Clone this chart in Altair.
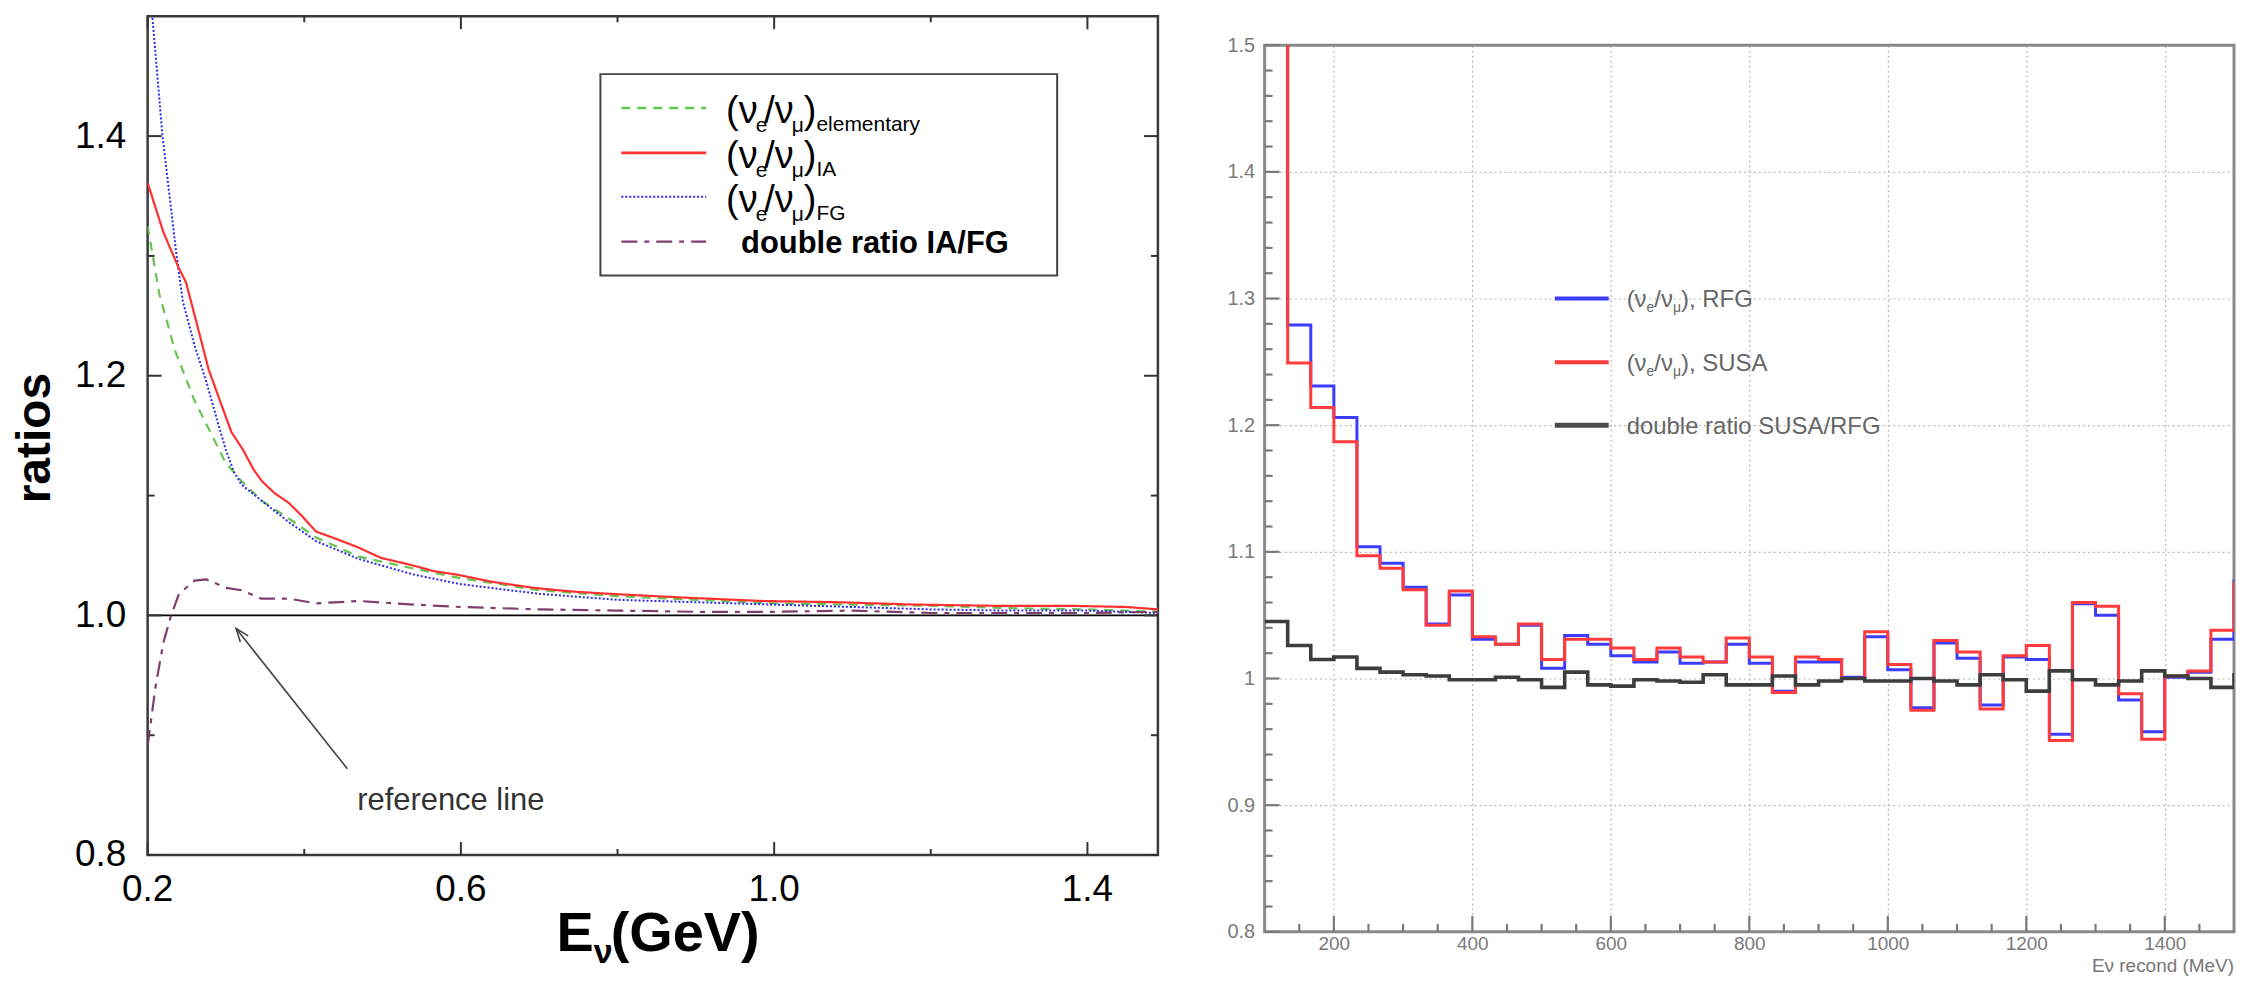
import altair as alt
import pandas as pd

# ---------------- left panel data (E in GeV, ratios) ----------------
ia_x = [0.2, 0.22, 0.239, 0.249, 0.263, 0.278, 0.293, 0.307, 0.322, 0.335, 0.346, 0.362, 0.380, 0.397,
        0.415, 0.44, 0.468, 0.498, 0.537, 0.565, 0.595, 0.64, 0.693, 0.74, 0.79, 0.88, 0.985, 1.08,
        1.18, 1.28, 1.376, 1.45, 1.49]
ia_y = [1.361, 1.32, 1.291, 1.278, 1.243, 1.205, 1.178, 1.153, 1.138, 1.122, 1.112, 1.102, 1.094, 1.083,
        1.070, 1.064, 1.057, 1.048, 1.042, 1.037, 1.034, 1.028, 1.023, 1.020, 1.018, 1.015, 1.012, 1.011,
        1.009, 1.008, 1.008, 1.007, 1.005]

fg_x = [0.2, 0.206, 0.219, 0.237, 0.245, 0.26, 0.275, 0.29, 0.30, 0.31, 0.32, 0.345, 0.38, 0.415, 0.47,
        0.54, 0.60, 0.70, 0.80, 0.90, 1.0, 1.1, 1.2, 1.3, 1.4, 1.49]
fg_y = [1.545, 1.5, 1.4, 1.3, 1.262, 1.225, 1.195, 1.16, 1.138, 1.12, 1.109, 1.096, 1.078, 1.062, 1.047,
        1.034, 1.026, 1.018, 1.013, 1.011, 1.009, 1.007, 1.005, 1.004, 1.004, 1.002]

el_x = [0.2, 0.215, 0.235, 0.26, 0.28, 0.30, 0.32, 0.345, 0.38, 0.415, 0.47, 0.54, 0.60, 0.70, 0.80,
        0.90, 1.0, 1.1, 1.2, 1.3, 1.4, 1.49]
el_y = [1.325, 1.268, 1.221, 1.179, 1.153, 1.127, 1.112, 1.096, 1.081, 1.065, 1.049, 1.039, 1.031, 1.021,
        1.016, 1.013, 1.010, 1.009, 1.008, 1.006, 1.005, 1.003]

dr_x = [0.2, 0.21, 0.22, 0.23, 0.24, 0.26, 0.275, 0.30, 0.32, 0.345, 0.38, 0.415, 0.47, 0.54, 0.60, 0.70,
        0.80, 0.90, 1.0, 1.1, 1.2, 1.3, 1.4, 1.49]
dr_y = [0.891, 0.94, 0.977, 1.0, 1.018, 1.029, 1.030, 1.023, 1.021, 1.014, 1.014, 1.010, 1.012, 1.009,
        1.007, 1.005, 1.004, 1.003, 1.003, 1.004, 1.002, 1.002, 1.002, 1.003]

left_xticks_major = [0.2, 0.6, 1.0, 1.4]
left_xticks_minor = [0.4, 0.8, 1.2]
left_yticks_major = [0.8, 1.0, 1.2, 1.4]
left_yticks_minor = [0.9, 1.1, 1.3]
arrow_from = (0.455, 0.872)
arrow_to = (0.313, 0.989)

# ---------------- right panel data (E in MeV, histograms) ----------------
bin_start, bin_width = 100.0, 1400.0 / 42
susa = [1.60, 1.249, 1.214, 1.187, 1.097, 1.087, 1.070, 1.042, 1.069, 1.033, 1.027, 1.043, 1.015, 1.031,
        1.031, 1.024, 1.015, 1.024, 1.017, 1.013, 1.032, 1.017, 0.989, 1.017, 1.015, 1.000, 1.037, 1.011,
        0.975, 1.030, 1.021, 0.976, 1.018, 1.026, 0.951, 1.060, 1.057, 0.988, 0.952, 1.002, 1.006, 1.038,
        1.075]
rfg = [1.60, 1.279, 1.231, 1.206, 1.104, 1.091, 1.072, 1.043, 1.066, 1.031, 1.027, 1.042, 1.008, 1.034,
       1.027, 1.018, 1.013, 1.021, 1.012, 1.013, 1.027, 1.012, 0.990, 1.013, 1.013, 1.001, 1.033, 1.007,
       0.977, 1.028, 1.016, 0.979, 1.017, 1.015, 0.956, 1.059, 1.050, 0.983, 0.958, 1.001, 1.005, 1.031,
       1.077]
dbl = [1.045, 1.026, 1.015, 1.017, 1.008, 1.005, 1.003, 1.002, 0.999, 0.999, 1.001, 0.999, 0.993, 1.005,
       0.995, 0.994, 0.999, 0.998, 0.997, 1.003, 0.995, 0.995, 1.002, 0.995, 0.998, 1.000, 0.998, 0.998,
       1.000, 0.998, 0.995, 1.003, 0.999, 0.990, 1.006, 0.999, 0.995, 0.998, 1.006, 1.002, 1.000, 0.993,
       1.003]
right_xticks_major = [200, 400, 600, 800, 1000, 1200, 1400]
right_xticks_minor = [150, 250, 300, 350, 450, 500, 550, 650, 700, 750, 850, 900, 950, 1050, 1100, 1150,
                      1250, 1300, 1350, 1450]
right_yticks_major = [0.8, 0.9, 1.0, 1.1, 1.2, 1.3, 1.4, 1.5]
right_yticks_minor = [0.82, 0.84, 0.86, 0.88, 0.92, 0.94, 0.96, 0.98, 1.02, 1.04, 1.06, 1.08, 1.12, 1.14,
                      1.16, 1.18, 1.22, 1.24, 1.26, 1.28, 1.32, 1.34, 1.36, 1.38, 1.42, 1.44, 1.46, 1.48]

# ---------------- layout ----------------
W1, H1 = 1013, 841
W2, H2 = 972, 889
SPACER = 19
FONT = "Liberation Sans"

one = pd.DataFrame({"a": [0]})

# Arial / Liberation Sans advance widths (em fractions)
_W = {" ": .278, "(": .333, ")": .333, "/": .278, ",": .278, ".": .278, "A": .667, "E": .667, "F": .611,
      "G": .778, "I": .278, "M": .833, "R": .722, "S": .667, "U": .722, "V": .667, "a": .556, "b": .556,
      "c": .5, "d": .556, "e": .556, "i": .222, "l": .222, "m": .833, "n": .556, "o": .556, "r": .333,
      "t": .278, "u": .556, "y": .5, "ν": .5, "μ": .576}


def tw(s, size):
    return sum(_W.get(ch, .556) for ch in s) * size


def rich(parts, x0, ybase, color, weight="normal", font=FONT):
    out = []
    x = x0
    for txt, size, dy, kern in parts:
        out.append(alt.Chart(one).mark_text(text=txt, font=font, fontSize=size, fontWeight=weight,
                                            color=color, align="left", baseline="alphabetic")
                   .encode(x=alt.value(x), y=alt.value(ybase + dy)))
        x += tw(txt, size) + kern
    return out


# ================= LEFT PANEL =================
xs1 = alt.Scale(domain=[0.2, 1.49], nice=False, zero=False)
ys1 = alt.Scale(domain=[0.8, 1.5], nice=False, zero=False)
AX1 = alt.Axis(values=left_xticks_major, ticks=False, domain=False, grid=False, labels=False, title=None)
AY1 = alt.Axis(values=left_yticks_major, format=".1f", ticks=False, domain=False, grid=False, labelFlush=False,
               labelFont=FONT, labelFontSize=37, labelColor="black", labelPadding=22, title=None)


def X1(f):
    return alt.X(f, scale=xs1, axis=AX1)


def Y1(f):
    return alt.Y(f, scale=ys1, axis=AY1)


def curve(xv, yv, color, dash, width):
    df = pd.DataFrame({"x": xv, "y": yv})
    return alt.Chart(df).mark_line(color=color, strokeDash=dash, strokeWidth=width, clip=True).encode(
        x=X1("x:Q"), y=Y1("y:Q"))


frame1_df = pd.DataFrame({"x0": [0.2], "x1": [1.49], "y0": [0.8], "y1": [1.5]})
frame1 = alt.Chart(frame1_df).mark_rect(fillOpacity=0, stroke="#3a3a3a", strokeWidth=2.5).encode(
    x=X1("x0:Q"), x2="x1:Q", y=Y1("y0:Q"), y2="y1:Q")

# x tick labels of the left panel, centred under their ticks
xlab1 = alt.Chart(pd.DataFrame({"v": left_xticks_major})).mark_text(
    font=FONT, fontSize=37, color="black", align="center", baseline="top").encode(
    x=X1("v:Q"), y=alt.value(H1 + 17), text=alt.Text("v:Q", format=".1f"))

ref_df = pd.DataFrame({"x0": [0.2], "x1": [1.49], "y": [1.0]})
ref_line = alt.Chart(ref_df).mark_rule(color="black", strokeWidth=1.8).encode(
    x=X1("x0:Q"), x2="x1:Q", y=Y1("y:Q"))


def ticks_y(vals, length, Yf, width_px, color, sw, both=True):
    df = pd.DataFrame({"v": vals})
    base = alt.Chart(df).mark_rule(color=color, strokeWidth=sw)
    out = [base.encode(y=Yf("v:Q"), x=alt.value(0), x2=alt.value(length))]
    if both:
        out.append(base.encode(y=Yf("v:Q"), x=alt.value(width_px - length), x2=alt.value(width_px)))
    return out


def ticks_x(vals, length, Xf, height_px, color, sw, both=True):
    df = pd.DataFrame({"v": vals})
    base = alt.Chart(df).mark_rule(color=color, strokeWidth=sw)
    out = [base.encode(x=Xf("v:Q"), y=alt.value(height_px - length), y2=alt.value(height_px))]
    if both:
        out.append(base.encode(x=Xf("v:Q"), y=alt.value(0), y2=alt.value(length)))
    return out


left_ticks = (ticks_y(left_yticks_major, 14, Y1, W1, "#333", 2) + ticks_y(left_yticks_minor, 7, Y1, W1, "#333", 2)
              + ticks_x(left_xticks_major, 13, X1, H1, "#333", 2) + ticks_x(left_xticks_minor, 6, X1, H1, "#333", 2))

c_el = curve(el_x, el_y, "#66c450", [9, 7], 2.2)
c_fg = curve(fg_x, fg_y, "#2a2af0", [2, 2], 2.0)
c_ia = curve(ia_x, ia_y, "#ff3030", [1, 0], 2.2)
c_dr = curve(dr_x, dr_y, "#7e3f6e", [16, 7, 5, 7], 2.2)

# arrow + annotation
arr_df = pd.DataFrame({"x0": [arrow_from[0]], "y0": [arrow_from[1]], "x1": [arrow_to[0]], "y1": [arrow_to[1]]})
arrow_line = alt.Chart(arr_df).mark_rule(color="#444", strokeWidth=1.6).encode(
    x=X1("x0:Q"), y=Y1("y0:Q"), x2="x1:Q", y2="y1:Q")
arrow_head = alt.Chart(arr_df).mark_point(shape="M-0.38,1 L0,0 L0.38,1", filled=False, size=700,
                                          color="#444", strokeWidth=1.6, angle=322, opacity=1).encode(
    x=X1("x1:Q"), y=Y1("y1:Q"))
ref_text = alt.Chart(one).mark_text(text="reference line", font=FONT, fontSize=31, color="#333",
                                    align="center", baseline="alphabetic").encode(
    x=alt.value(304), y=alt.value(796))

# legend (left)
leg1_box = alt.Chart(one).mark_rect(fill="white", stroke="#444", strokeWidth=2).encode(
    x=alt.value(454), x2=alt.value(912), y=alt.value(58), y2=alt.value(260))
rows1 = [92, 137, 181, 226]
leg1_lines = [
    alt.Chart(one).mark_rule(color="#66c450", strokeDash=[9, 7], strokeWidth=2.4).encode(
        x=alt.value(475), x2=alt.value(560), y=alt.value(rows1[0])),
    alt.Chart(one).mark_rule(color="#ff3030", strokeWidth=2.6).encode(
        x=alt.value(475), x2=alt.value(560), y=alt.value(rows1[1])),
    alt.Chart(one).mark_rule(color="#2a2af0", strokeDash=[2, 2], strokeWidth=2).encode(
        x=alt.value(475), x2=alt.value(560), y=alt.value(rows1[2])),
    alt.Chart(one).mark_rule(color="#7e3f6e", strokeDash=[16, 7, 5, 7], strokeWidth=2.4).encode(
        x=alt.value(475), x2=alt.value(560), y=alt.value(rows1[3])),
]
leg1_text = []
for r, sub in zip(rows1[:3], ["elementary", "IA", "FG"]):
    leg1_text += rich([("(ν", 38, 0, -2), ("e", 21, 9, -3), ("/ν", 38, 0, -2), ("μ", 21, 9, 0),
                       (")", 38, 0, 0), (sub, 21, 8, 0)], 580, r + 15, "black")
leg1_text += rich([("double ratio IA/FG", 31, 0, 0)], 595, rows1[3] + 11, "black", weight="bold")

# axis titles (left)
ratios_title = alt.Chart(one).mark_text(text="ratios", font=FONT, fontSize=48, fontWeight="bold",
                                        angle=270, align="center", baseline="middle", color="black").encode(
    x=alt.value(-112), y=alt.value(423))
e_title = rich([("E", 56, 0, 0), ("ν", 34, 12, 0), ("(GeV)", 56, 0, 0)], 410, 937, "black", weight="bold")

left = alt.layer(frame1, ref_line, *left_ticks, c_el, c_fg, c_ia, c_dr, arrow_line, arrow_head, ref_text,
                 leg1_box, *leg1_lines, *leg1_text, ratios_title, *e_title, xlab1).properties(width=W1, height=H1)

# ================= RIGHT PANEL =================
xs2 = alt.Scale(domain=[100, 1500], nice=False, zero=False)
ys2 = alt.Scale(domain=[0.8, 1.5], nice=False, zero=False)
AX2 = alt.Axis(values=right_xticks_major, format="d", ticks=False, domain=False, grid=True, gridDash=[2, 3],
               gridColor="#b8b8b8", gridWidth=1.2, labelFont=FONT, labelFontSize=19, labelColor="#7a7a7a",
               labelPadding=3, labelFlush=False, title=None)
AY2 = alt.Axis(values=right_yticks_major, format="~g", ticks=False, domain=False, grid=True, gridDash=[2, 3],
               gridColor="#b8b8b8", gridWidth=1.2, labelFont=FONT, labelFontSize=20, labelColor="#7a7a7a",
               labelPadding=10, labelFlush=False, title=None)


def X2(f):
    return alt.X(f, scale=xs2, axis=AX2)


def Y2(f):
    return alt.Y(f, scale=ys2, axis=AY2)


n_bins = len(susa)
edges = [bin_start + i * bin_width for i in range(n_bins + 1)]


def hist(vals, color, width):
    df = pd.DataFrame({"x": edges, "y": list(vals) + [vals[-1]]})
    return alt.Chart(df).mark_line(interpolate="step-after", color=color, strokeWidth=width, clip=True).encode(
        x=X2("x:Q"), y=Y2("y:Q"))


frame2_df = pd.DataFrame({"x0": [100], "x1": [1500], "y0": [0.8], "y1": [1.5]})
frame2 = alt.Chart(frame2_df).mark_rect(fillOpacity=0, stroke="#8a8a8a", strokeWidth=3).encode(
    x=X2("x0:Q"), x2="x1:Q", y=Y2("y0:Q"), y2="y1:Q")

right_ticks = (ticks_y(right_yticks_major, 15, Y2, W2, "#7a7a7a", 2.2, both=False)
               + ticks_y(right_yticks_minor, 8, Y2, W2, "#7a7a7a", 2.2, both=False)
               + ticks_x(right_xticks_major, 16, X2, H2, "#7a7a7a", 2.2, both=False)
               + ticks_x(right_xticks_minor, 8, X2, H2, "#7a7a7a", 2.2, both=False))

h_rfg = hist(rfg, "#3c3cff", 3)
h_susa = hist(susa, "#ff3b3b", 3)
h_dbl = hist(dbl, "#3d3d3d", 3.6)

rows2 = [254, 318, 381]
leg2_lines = [
    alt.Chart(one).mark_rule(color="#3c3cff", strokeWidth=4).encode(x=alt.value(291), x2=alt.value(345),
                                                                     y=alt.value(rows2[0])),
    alt.Chart(one).mark_rule(color="#ff3b3b", strokeWidth=4).encode(x=alt.value(291), x2=alt.value(345),
                                                                     y=alt.value(rows2[1])),
    alt.Chart(one).mark_rule(color="#4a4a4a", strokeWidth=5).encode(x=alt.value(291), x2=alt.value(345),
                                                                     y=alt.value(rows2[2])),
]
leg2_text = []
for r, lab in zip(rows2[:2], ["), RFG", "), SUSA"]):
    leg2_text += rich([("(ν", 24, 0, 0), ("e", 14, 5, 0), ("/ν", 24, 0, 0), ("μ", 14, 5, 0), (lab, 24, 0, 0)],
                      363, r + 9, "#666")
leg2_text += rich([("double ratio SUSA/RFG", 24, 0, 0)], 363, rows2[2] + 9, "#666")

x2_title = alt.Chart(one).mark_text(text="Eν recond (MeV)", font=FONT, fontSize=19, color="#777",
                                    align="right", baseline="alphabetic").encode(
    x=alt.value(W2), y=alt.value(H2 + 40))

right = alt.layer(frame2, h_rfg, h_susa, h_dbl, *right_ticks, *leg2_lines, *leg2_text,
                  x2_title).properties(width=W2, height=H2)

spacer = alt.Chart(one).mark_rule(strokeWidth=0, opacity=0).encode(
    x=alt.value(0), x2=alt.value(1), y=alt.value(0), y2=alt.value(1)).properties(width=W2, height=SPACER)

right_col = alt.vconcat(spacer, right, spacing=0)

chart = alt.hconcat(left, right_col, spacing=67).properties(
    padding={"left": 4, "top": 5, "right": 0, "bottom": 0}
).configure(background="white").configure_view(strokeWidth=0, stroke="transparent")

chart.save("out.html", embed_options={"renderer": "svg", "actions": False})
